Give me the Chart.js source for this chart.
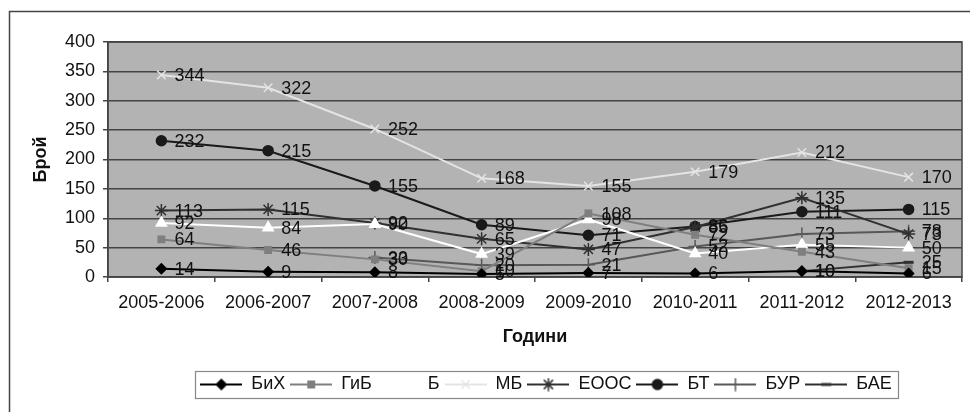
<!DOCTYPE html>
<html>
<head>
<meta charset="utf-8">
<script src="https://cdn.jsdelivr.net/npm/chart.js@4/dist/chart.umd.min.js"></script>
<style>
  html, body { margin: 0; padding: 0; background: #fff; }
  #wrap { width: 970px; height: 412px; }
</style>
</head>
<body>
<div id="wrap"><canvas id="chart" width="970" height="412"></canvas></div>
<script>
// --- data ---
const categories = ['2005-2006', '2006-2007', '2007-2008', '2008-2009', '2009-2010', '2010-2011', '2011-2012', '2012-2013'];
const seriesNames = ['БиХ', 'ГиБ', 'Б', 'МБ', 'ЕООС', 'БТ', 'БУР', 'БАЕ'];
const bih  = [14, 9, 8, 5, 7, 6, 10, 6];
const gib  = [64, 46, 30, 10, 108, 72, 43, 15];
const b    = [92, 84, 90, 39, 98, 40, 55, 50];
const mb   = [344, 322, 252, 168, 155, 179, 212, 170];
const eoos = [113, 115, 92, 65, 47, 85, 135, 73];
const bt   = [232, 215, 155, 89, 71, 86, 111, 115];
const bur  = [null, null, 33, 20, 21, 52, 73, 78];
const bae  = [null, null, null, null, null, null, 10, 25];
const yTicks = [0, 50, 100, 150, 200, 250, 300, 350, 400];

const FONT = "'Liberation Sans', Arial, sans-serif";
const FS = 18;
Chart.defaults.font.family = FONT;
Chart.defaults.font.size = FS;
Chart.defaults.color = '#111';

// look of each series: colour, marker, marker radius
const looks = [
  { color: '#000000', style: 'rectRot',  r: 5 },
  { color: '#7f7f7f', style: 'rect',     r: 4.5 },
  { color: '#ffffff', style: 'triangle', r: 6 },
  { color: '#e4e4e4', style: 'crossRot', r: 6 },
  { color: '#303030', style: 'star',     r: 6.5 },
  { color: '#1a1a1a', style: 'circle',   r: 5 },
  { color: '#585858', style: 'cross',    r: 6.5 },
  { color: '#303030', style: 'line',     r: 5 }
];
const values = [bih, gib, b, mb, eoos, bt, bur, bae];

// legend sample: short line with the marker in the middle
function makeSample(look) {
  const c = document.createElement('canvas');
  c.width = 42; c.height = 14;
  const g = c.getContext('2d');
  g.strokeStyle = look.color;
  g.fillStyle = look.color;
  g.lineWidth = 2;
  g.beginPath(); g.moveTo(0, 7); g.lineTo(42, 7); g.stroke();
  g.lineWidth = look.style === 'line' ? 3 : 1.5;
  Chart.helpers.drawPoint(g, { pointStyle: look.style, radius: look.r, borderWidth: 1, rotation: 0 }, 21, 7);
  return c;
}
const legendSamples = looks.map(makeSample);

const datasets = values.map((data, i) => ({
  label: seriesNames[i],
  data: data,
  borderColor: looks[i].color,
  backgroundColor: looks[i].color,
  borderWidth: 2,
  pointStyle: looks[i].style,
  pointRadius: looks[i].r,
  pointBackgroundColor: looks[i].color,
  pointBorderColor: looks[i].color,
  pointBorderWidth: looks[i].style === 'line' ? 3 : 1.5,
  tension: 0
}));

/* --- plugins --- */
const LEGEND_SHIFT = 57;

const frame = {
  id: 'frame',
  afterLayout(chart) {
    // the legend sits right of centre in the reference
    chart.legend.left += LEGEND_SHIFT;
    chart.legend.right += LEGEND_SHIFT;
  },
  beforeDraw(chart) {
    const { ctx, chartArea: a } = chart;
    ctx.save();
    ctx.fillStyle = '#b3b3b3';
    ctx.fillRect(a.left, a.top, a.right - a.left, a.bottom - a.top);
    ctx.restore();
  },
  beforeDatasetsDraw(chart) {
    const { ctx, chartArea: a } = chart;
    ctx.save();
    ctx.strokeStyle = '#444';
    ctx.lineWidth = 1.5;
    ctx.strokeRect(a.left, a.top, a.right - a.left, a.bottom - a.top);
    ctx.restore();
  },
  afterDraw(chart) {
    const { ctx } = chart;
    const lg = chart.legend;
    ctx.save();
    // outer chart border (only left and top are inside the picture)
    ctx.strokeStyle = '#444';
    ctx.lineWidth = 1.5;
    ctx.strokeRect(9.5, 11.5, 1100, 600);
    // box around the legend
    const pad = lg.options.labels.padding;
    const lw = lg.lineWidths[0];
    const x0 = (lg.left + pad + lg.right - lw) / 2;
    const cy = lg.top + pad + FS / 2;
    ctx.strokeStyle = '#888';
    ctx.lineWidth = 1.2;
    ctx.strokeRect(Math.round(x0 - 5) + 0.5, Math.round(cy - 13.5) + 0.5, Math.round(lw - pad + 12), 27);
    ctx.restore();
  }
};

const valueLabels = {
  id: 'valueLabels',
  afterDatasetsDraw(chart) {
    const { ctx } = chart;
    ctx.save();
    ctx.font = FS + 'px ' + FONT;
    ctx.fillStyle = '#111';
    ctx.textAlign = 'left';
    ctx.textBaseline = 'middle';
    chart.data.datasets.forEach((ds, i) => {
      const meta = chart.getDatasetMeta(i);
      meta.data.forEach((pt, j) => {
        const v = ds.data[j];
        if (v === null || v === undefined) return;
        ctx.fillText(String(v), pt.x + 13, pt.y + 1);
      });
    });
    ctx.restore();
  }
};

new Chart(document.getElementById('chart'), {
  type: 'line',
  data: { labels: categories, datasets: datasets },
  options: {
    responsive: false,
    animation: false,
    layout: { padding: { left: 10, top: 42, right: 2, bottom: 8.5 } },
    plugins: {
      tooltip: { enabled: false },
      legend: {
        position: 'bottom',
        labels: {
          usePointStyle: true,
          pointStyleWidth: 42,
          padding: 5,
          color: '#111',
          font: { size: FS },
          generateLabels(chart) {
            const items = Chart.defaults.plugins.legend.labels.generateLabels(chart);
            items.forEach(item => { item.pointStyle = legendSamples[item.datasetIndex]; });
            return items;
          }
        }
      }
    },
    scales: {
      x: {
        offset: true,
        grid: { offset: true, drawOnChartArea: false, tickLength: 5, color: '#444', lineWidth: 1.5 },
        border: { color: '#444', width: 1.5 },
        ticks: { padding: 10, color: '#111', maxRotation: 0, autoSkip: false },
        title: { display: true, text: 'Години', font: { size: FS, weight: 'bold' }, color: '#111', padding: { top: 0, bottom: 23 } },
        afterFit(scale) { scale.height = 93.5; }
      },
      y: {
        min: 0,
        max: 400,
        afterBuildTicks(scale) { scale.ticks = yTicks.map(v => ({ value: v })); },
        grid: { color: '#444', lineWidth: 1.5, tickLength: 5 },
        border: { color: '#444', width: 1.5 },
        ticks: { padding: 8, color: '#111' },
        title: { display: true, text: 'Брой', font: { size: FS, weight: 'bold' }, color: '#111', padding: { top: 20, bottom: 0 } },
        afterFit(scale) { scale.width = 98; }
      }
    }
  },
  plugins: [frame, valueLabels]
});
</script>
</body>
</html>
